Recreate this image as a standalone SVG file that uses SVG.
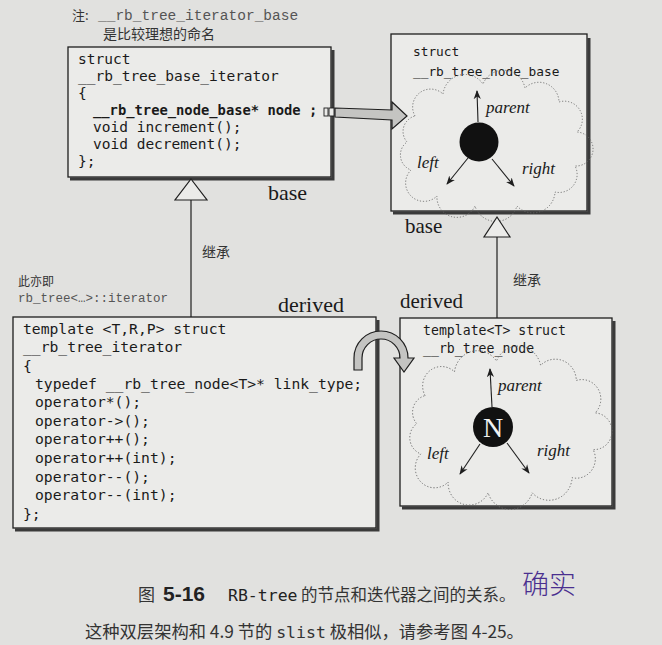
<svg xmlns="http://www.w3.org/2000/svg" width="662" height="645" viewBox="0 0 662 645">
<style>
.box{fill:#ebebe9;stroke:#1e1e1e;stroke-width:1.3}
.shadow{fill:none;stroke:#3a3a3a;stroke-width:3}
.mono{font-family:"DejaVu Sans Mono","Liberation Mono",monospace;fill:#1a1a1a}
.note{font-family:"Liberation Mono","DejaVu Sans Mono",monospace;fill:#555}
.cjk{font-family:"Noto Sans CJK SC","Noto Sans",sans-serif;fill:#333}
.ser{font-family:"Liberation Serif","DejaVu Serif",serif;fill:#1a1a1a}
.ital{font-family:"Liberation Serif","DejaVu Serif",serif;font-style:italic;font-size:17px;fill:#1a1a1a}
.cloud{fill:none;stroke:#666;stroke-width:0.9;stroke-dasharray:1.2 1.8}
.ln{stroke:#1e1e1e;stroke-width:1.2;fill:none}
.tri{fill:#ebebe9;stroke:#1e1e1e;stroke-width:1.2}
.big{fill:#c4c4c2;stroke:#1e1e1e;stroke-width:1.2}
.ptr{stroke:#1e1e1e;stroke-width:1.1;fill:none;marker-end:url(#ah)}
</style>
<defs>
<marker id="ah" viewBox="0 0 10 10" refX="9" refY="5" markerWidth="9" markerHeight="9" markerUnits="userSpaceOnUse" orient="auto">
<path d="M0,1 L10,5 L0,9 L3,5 Z" fill="#1e1e1e"/>
</marker>
<path id="cl" d="M -78 -30 A 18 18 0 0 1 -50 -52 A 22 22 0 0 1 -10 -62 A 22 22 0 0 1 32 -58 A 20 20 0 0 1 66 -44 A 18 18 0 0 1 84 -14 A 16 16 0 0 1 82 20 A 18 18 0 0 1 62 46 A 22 22 0 0 1 24 60 A 22 22 0 0 1 -18 60 A 20 20 0 0 1 -56 50 A 18 18 0 0 1 -82 24 A 16 16 0 0 1 -86 -4 A 16 16 0 0 1 -78 -30 Z"/>
</defs>
<rect width="662" height="645" fill="#e1e1df"/>

<!-- note -->
<g id="note">
<text class="cjk" x="72" y="20" font-size="13">注:</text>
<text class="note" x="98" y="20" font-size="14.5">__rb_tree_iterator_base</text>
<text class="cjk" x="103" y="39" font-size="14">是比较理想的命名</text>
</g>

<g id="alias">
<text class="cjk" x="18" y="286" font-size="12">此亦即</text>
<text class="note" x="18" y="302" font-size="12.5">rb_tree&lt;…&gt;::iterator</text>
</g>

<!-- box1 -->
<g id="base_iterator">
<path class="shadow" d="M333 50 L333 179 L70 179"/>
<rect class="box" x="68" y="47" width="263" height="130"/>
<text class="mono" x="78" y="64" font-size="14.5">struct</text>
<text class="mono" x="78" y="81" font-size="14.5">__rb_tree_base_iterator</text>
<text class="mono" x="78" y="98" font-size="14.5">{</text>
<text class="mono" x="93" y="115" font-size="13.8" font-weight="bold">__rb_tree_node_base* node ;</text>
<text class="mono" x="93" y="132" font-size="14.5">void increment();</text>
<text class="mono" x="93" y="149" font-size="14.5">void decrement();</text>
<text class="mono" x="78" y="166" font-size="14.5">};</text>
</g>
<text class="ser" x="268" y="200" font-size="22">base</text>
<text class="cjk" x="202" y="257" font-size="14">继承</text>

<!-- box2 -->
<g id="node_base">
<path class="shadow" d="M589 38 L589 213 L393 213"/>
<rect class="box" x="391" y="34" width="196" height="177"/>
<text class="mono" x="413" y="56" font-size="12.8">struct</text>
<text class="mono" x="413" y="76" font-size="12.8">__rb_tree_node_base</text>
<use href="#cl" class="cloud" transform="translate(493,146)"/>
<circle cx="479" cy="142" r="19.5" fill="#111"/>
<path class="ptr" d="M478 122 L477 91"/>
<path class="ptr" d="M468 158 L447 184"/>
<path class="ptr" d="M492 159 L514 186"/>
<text class="ital" x="486" y="113">parent</text>
<text class="ital" x="417" y="168">left</text>
<text class="ital" x="522" y="174">right</text>
</g>
<text class="ser" x="405" y="233" font-size="21">base</text>
<text class="cjk" x="513" y="285" font-size="14">继承</text>

<!-- box3 -->
<text class="ser" x="278" y="312" font-size="22">derived</text>
<g id="iterator">
<path class="shadow" d="M378 320 L378 530 L15 530"/>
<rect class="box" x="13" y="317" width="363" height="211"/>
<text class="mono" x="23" y="334" font-size="14.7">template &lt;T,R,P&gt; struct</text>
<text class="mono" x="23" y="352" font-size="14.7">__rb_tree_iterator</text>
<text class="mono" x="23" y="371" font-size="14.7">{</text>
<text class="mono" x="35" y="389" font-size="14.7">typedef __rb_tree_node&lt;T&gt;* link_type;</text>
<text class="mono" x="35" y="407" font-size="14.7">operator*();</text>
<text class="mono" x="35" y="426" font-size="14.7">operator-&gt;();</text>
<text class="mono" x="35" y="444" font-size="14.7">operator++();</text>
<text class="mono" x="35" y="463" font-size="14.7">operator++(int);</text>
<text class="mono" x="35" y="482" font-size="14.7">operator--();</text>
<text class="mono" x="35" y="500" font-size="14.7">operator--(int);</text>
<text class="mono" x="23" y="519" font-size="14.7">};</text>
</g>

<!-- box4 -->
<text class="ser" x="400" y="308" font-size="21">derived</text>
<g id="rb_tree_node">
<path class="shadow" d="M614 321 L614 508 L402 508"/>
<rect class="box" x="400" y="318" width="212" height="188"/>
<text class="mono" x="423" y="335" font-size="13.2">template&lt;T&gt; struct</text>
<text class="mono" x="423" y="353" font-size="13.2">__rb_tree_node</text>
<use href="#cl" class="cloud" transform="translate(507,428) scale(1.05,1.08)"/>
<circle cx="493" cy="427" r="20" fill="#111"/>
<text x="493" y="437" font-family="Liberation Serif,serif" font-size="28" fill="#f2f2f2" text-anchor="middle">N</text>
<path class="ptr" d="M492 407 L490 369"/>
<path class="ptr" d="M480 444 L460 474"/>
<path class="ptr" d="M507 443 L529 473"/>
<text class="ital" x="498" y="391">parent</text>
<text class="ital" x="427" y="459">left</text>
<text class="ital" x="537" y="456">right</text>
</g>

<!-- connectors -->
<g id="connectors">
<line class="ln" x1="191" y1="200" x2="191" y2="317"/>
<path class="tri" d="M191 179 L207 200 L175 200 Z"/>
<line class="ln" x1="497" y1="237" x2="497" y2="318"/>
<path class="tri" d="M497 217 L510 237 L484 237 Z"/>
<rect x="324" y="108" width="4" height="8" fill="#ebebe9" stroke="#1e1e1e" stroke-width="0.9"/>
<rect x="329" y="108" width="5" height="8" fill="#ebebe9" stroke="#1e1e1e" stroke-width="0.9"/>
<path class="big" d="M335 108 L392 110 L392 102 L407 116 L392 129 L392 120 L335 117 Z"/>
<path class="big" d="M354 370 L354 358 A 27 27 0 0 1 408 358 L414 358 L404 372 L394 358 L400 358 A 19 19 0 0 0 362 358 L362 370 Z"/>
</g>

<!-- caption -->
<g id="caption">
<text x="138" y="601" font-size="17" class="cjk" fill="#222">图</text>
<text x="163" y="601" font-family="Liberation Sans,Arial,sans-serif" font-weight="bold" font-size="21" fill="#222">5-16</text>
<text x="228" y="601" font-family="DejaVu Sans Mono,monospace" font-size="16.5" fill="#222">RB-tree</text>
<text x="301" y="601" font-size="16.5" class="cjk" fill="#222">的节点和迭代器之间的关系。</text>
<text x="522" y="594" font-size="27" font-family="Noto Sans CJK SC,sans-serif" fill="#4a2f8f" font-weight="300">确实</text>
<text x="85" y="638" font-size="17.3" class="cjk" fill="#222">这种双层架构和 4.9 节的 <tspan font-family="DejaVu Sans Mono,monospace" font-size="16.5">slist</tspan> 极相似，请参考图 4-25。</text>
</g>
</svg>
